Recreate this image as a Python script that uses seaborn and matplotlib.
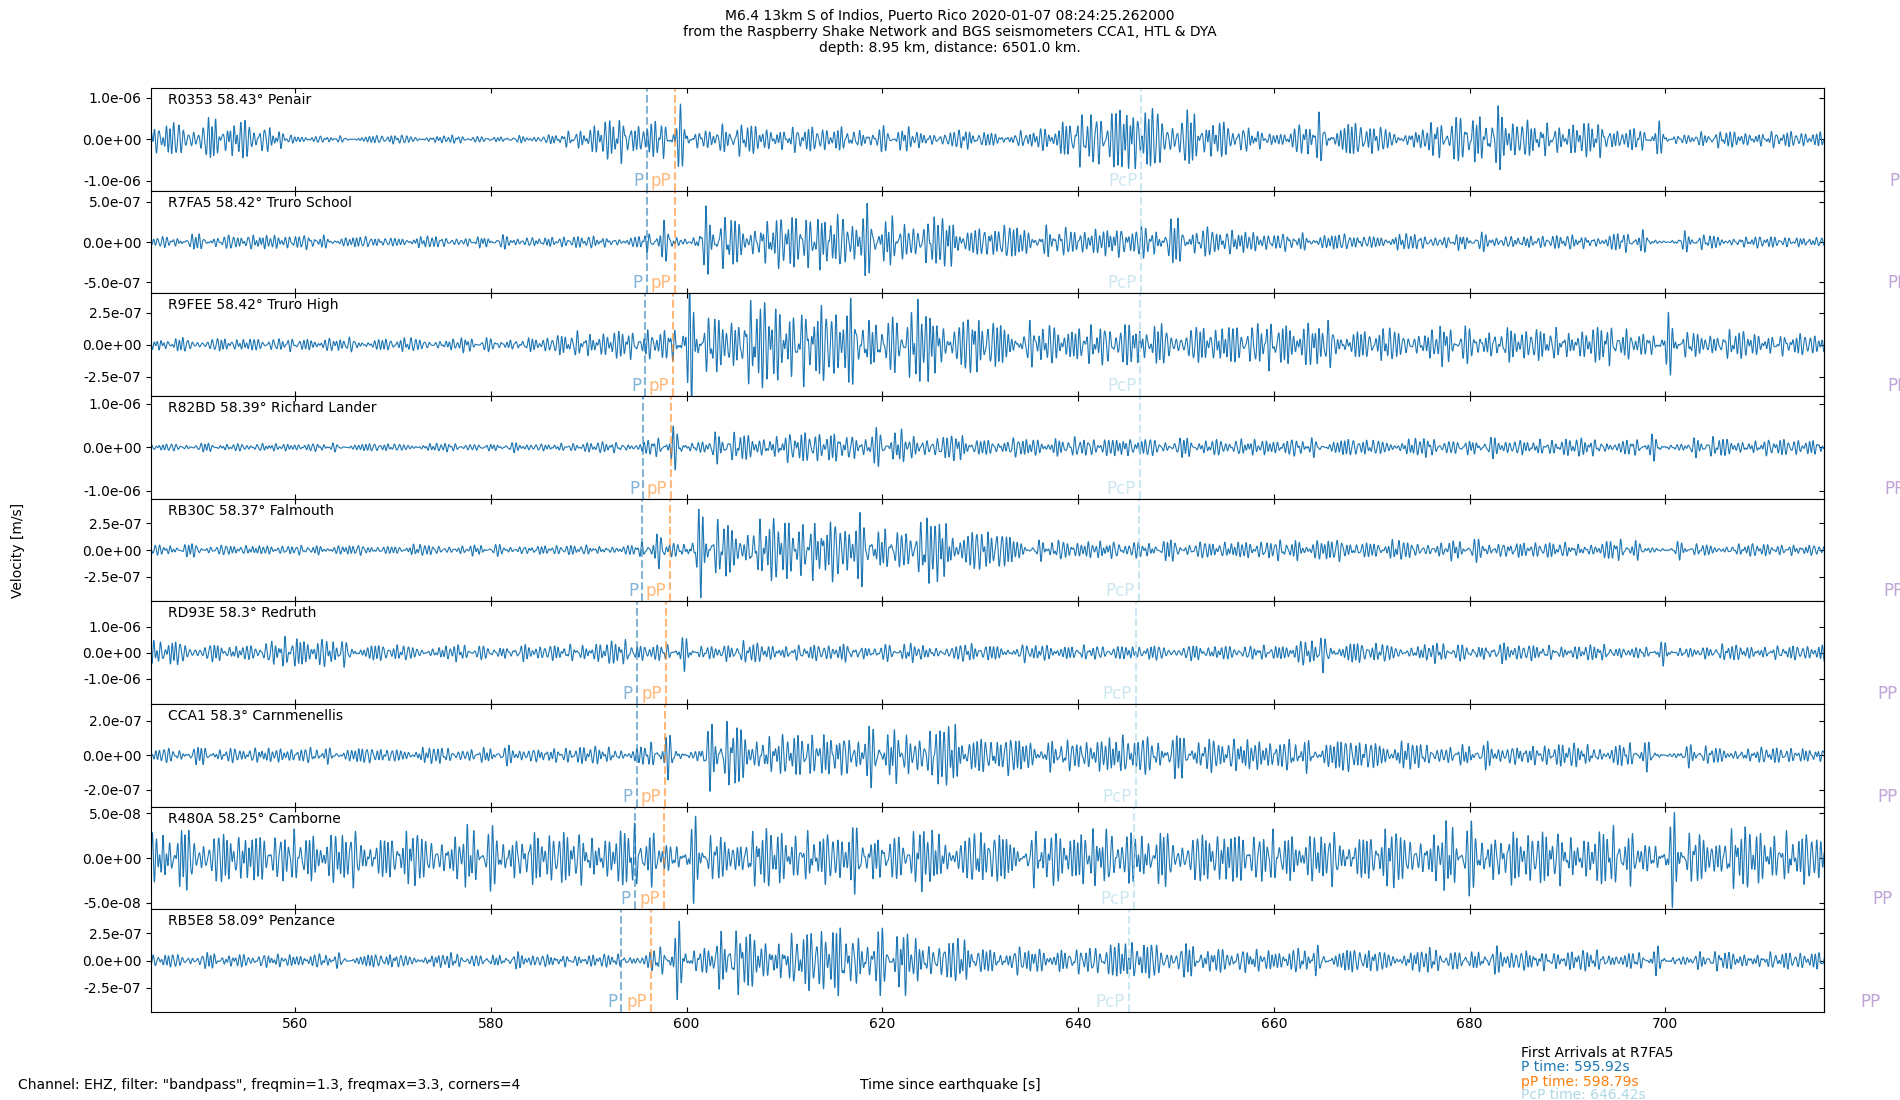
import numpy as np
import matplotlib as mpl
import matplotlib.pyplot as plt
from matplotlib.ticker import FormatStrFormatter
import seaborn as sns

mpl.rcParams.update({"font.size": 10})

stations = ["R0353", "R7FA5", "R9FEE", "R82BD", "RB30C", "RD93E", "CCA1", "R480A", "RB5E8"]
distances = ["58.43", "58.42", "58.42", "58.39", "58.37", "58.3", "58.3", "58.25", "58.09"]
places = ["Penair", "Truro School", "Truro High", "Richard Lander", "Falmouth",
          "Redruth", "Carnmenellis", "Camborne", "Penzance"]

# arrival times [s] per station
p_times = [595.95, 595.92, 595.75, 595.55, 595.45, 594.9, 594.9, 594.7, 593.3]
pp_small_times = [598.82, 598.79, 598.65, 598.45, 598.35, 597.9, 597.8, 597.7, 596.4]
pcp_times = [646.45, 646.42, 646.35, 646.3, 646.2, 645.9, 645.9, 645.7, 645.2]
pp_times = [725.3, 725.1, 725.1, 724.85, 724.7, 724.1, 724.1, 723.6, 722.4]

# y ticks and y limits per panel
tick_vals = [1e-6, 5e-7, 2.5e-7, 1e-6, 2.5e-7, 1e-6, 2e-7, 5e-8, 2.5e-7]
y_limits = [1.24e-6, 6.4e-7, 4.0e-7, 1.18e-6, 4.8e-7, 1.97e-6, 2.98e-7, 5.75e-8, 4.7e-7]

# amplitude envelope every 5 s (545 ... 715 s)
env_times = list(range(545, 716, 5))
env_r0353 = [0.35, 0.4, 0.45, 0.08, 0.06, 0.1, 0.08, 0.07, 0.06, 0.3, 0.55, 0.4, 0.3, 0.3, 0.25,
             0.25, 0.2, 0.18, 0.15, 0.55, 0.8, 0.6, 0.4, 0.12, 0.5, 0.3, 0.2, 0.7, 0.45, 0.35,
             0.35, 0.2, 0.15, 0.2, 0.15]  # x1e-6
env_r7fa5 = [0.12, 0.15, 0.17, 0.17, 0.12, 0.12, 0.12, 0.12, 0.12, 0.13, 0.12, 0.5, 0.55, 0.55,
             0.75, 0.55, 0.55, 0.4, 0.35, 0.3, 0.35, 0.45, 0.3, 0.2, 0.18, 0.17, 0.17, 0.17,
             0.15, 0.15, 0.2, 0.17, 0.15, 0.12, 0.12]  # x5e-7
env_r9fee = [0.45, 0.45, 0.45, 0.45, 0.45, 0.45, 0.45, 0.45, 0.45, 1.1, 0.8, 2.5, 2.6, 3.0,
             2.8, 2.0, 2.7, 1.8, 1.4, 1.3, 1.6, 1.2, 1.4, 1.7, 1.5, 1.0, 1.2, 1.2, 1.1, 1.2,
             1.2, 1.3, 1.0, 0.8, 0.8]  # x1e-7
env_r82bd = [0.08, 0.08, 0.08, 0.08, 0.08, 0.08, 0.08, 0.08, 0.08, 0.1, 0.12, 0.33, 0.25, 0.3,
             0.32, 0.32, 0.28, 0.2, 0.18, 0.2, 0.2, 0.18, 0.17, 0.17, 0.18, 0.17, 0.18, 0.17,
             0.17, 0.18, 0.17, 0.17, 0.18, 0.17, 0.16]  # x1e-6
env_rb30c = [0.45, 0.5, 0.4, 0.4, 0.4, 0.4, 0.45, 0.4, 0.4, 0.4, 0.4, 2.3, 2.5, 2.5, 3.0, 1.8,
             2.6, 2.0, 0.8, 0.8, 0.7, 0.8, 0.7, 0.85, 0.9, 0.8, 0.7, 0.8, 0.7, 0.6, 0.8, 0.5,
             0.5, 0.5, 0.5]  # x1e-7
env_rd93e = [0.55, 0.3, 0.25, 0.6, 0.4, 0.25, 0.25, 0.25, 0.25, 0.35, 0.4, 0.35, 0.35, 0.28,
             0.28, 0.28, 0.28, 0.28, 0.28, 0.25, 0.25, 0.25, 0.25, 0.25, 0.55, 0.3, 0.3, 0.3,
             0.3, 0.25, 0.25, 0.25, 0.25, 0.25, 0.25]  # x1e-6
env_cca1 = [0.4, 0.4, 0.4, 0.4, 0.4, 0.4, 0.4, 0.4, 0.4, 0.45, 0.45, 1.0, 1.6, 1.0, 1.3, 1.2,
            1.6, 1.2, 0.8, 0.8, 1.1, 1.0, 0.9, 0.8, 0.8, 0.9, 0.6, 0.55, 0.55, 0.6, 0.6, 0.5,
            0.4, 0.4, 0.4]  # x1e-7
env_r480a = [2.8, 2.8, 2.6, 2.6, 2.6, 2.4, 2.6, 2.8, 2.6, 2.7, 2.8, 2.6, 2.6, 2.8, 2.8, 2.6,
             2.8, 2.6, 2.4, 3.0, 2.8, 2.4, 2.8, 2.6, 2.4, 2.6, 2.8, 3.2, 2.6, 2.8, 2.6, 2.8,
             3.0, 2.8, 2.8]  # x1e-8
env_rb5e8 = [0.55, 0.6, 0.55, 0.55, 0.55, 0.55, 0.55, 0.55, 0.55, 0.5, 0.5, 2.2, 2.3, 2.0,
             3.0, 2.3, 2.2, 1.2, 1.0, 1.0, 1.8, 1.3, 1.0, 0.9, 1.1, 0.9, 0.9, 0.9, 0.9, 0.8,
             0.8, 0.7, 0.7, 0.7, 0.7]  # x1e-7

envelopes = [env_r0353, env_r7fa5, env_r9fee, env_r82bd, env_rb30c,
             env_rd93e, env_cca1, env_r480a, env_rb5e8]
env_units = [1e-6, 5e-7, 1e-7, 1e-6, 1e-7, 1e-6, 1e-7, 1e-8, 1e-7]

# oscillation inside the 1.3-3.3 Hz passband
carrier_freqs = [1.41, 1.58, 1.93, 2.07, 2.36, 2.61, 2.74, 3.05, 3.22]
carrier_weights = [0.6, 0.8, 1.0, 1.0, 1.0, 1.0, 0.9, 0.7, 0.5]

t = np.arange(545.0, 716.5, 0.02)

fig, axes = plt.subplots(9, 1, sharex=True, figsize=(19, 11), dpi=100,
                         gridspec_kw={"hspace": 0})
fig.subplots_adjust(left=0.0795, right=0.96, top=0.92, bottom=0.08)

for i, ax in enumerate(axes):
    env = np.interp(t, env_times, envelopes[i]) * env_units[i]
    wave = sum(w * np.sin(2 * np.pi * f * t + (k + 1) * (i + 3) * 2.39996)
               for k, (f, w) in enumerate(zip(carrier_freqs, carrier_weights)))
    trace = env * wave / (2.0 * wave.std())
    sns.lineplot(x=t, y=trace, ax=ax, color="#1f77b4", lw=0.8, estimator=None)

    ax.set_xlim(545.28, 716.2)
    ax.set_ylim(-y_limits[i], y_limits[i])
    yt = [tick_vals[i], 0, -tick_vals[i]]
    ax.set_yticks(yt)
    ax.yaxis.set_major_formatter(FormatStrFormatter("%.1e"))
    ax.tick_params(axis="x", direction="in", top=True, bottom=True)
    sec = ax.secondary_yaxis("right")
    sec.set_yticks(yt)
    sec.tick_params(direction="in", labelright=False)
    ax.set_ylabel("")

    ax.text(0.01, 0.95, f"{stations[i]} {distances[i]}\u00b0 {places[i]}",
            transform=ax.transAxes, ha="left", va="top", fontsize=10)

    tr = ax.get_xaxis_transform()
    ax.axvline(p_times[i], color="#1f77b4", ls="--", alpha=0.55)
    ax.axvline(pp_small_times[i], color="#ff7f0e", ls="--", alpha=0.55)
    ax.axvline(pcp_times[i], color="lightblue", ls="--", alpha=0.6)
    ax.text(p_times[i] - 0.4, 0.01, "P", transform=tr, ha="right", va="bottom",
            color="#1f77b4", alpha=0.55, fontsize=12)
    ax.text(pp_small_times[i] - 0.4, 0.01, "pP", transform=tr, ha="right", va="bottom",
            color="#ff7f0e", alpha=0.55, fontsize=12)
    ax.text(pcp_times[i] - 0.4, 0.01, "PcP", transform=tr, ha="right", va="bottom",
            color="lightblue", alpha=0.6, fontsize=12)
    ax.text(pp_times[i] - 0.4, 0.01, "PP", transform=tr, ha="right", va="bottom",
            color="#9467bd", alpha=0.6, fontsize=12, clip_on=False)

axes[-1].set_xticks([560, 580, 600, 620, 640, 660, 680, 700])

fig.suptitle("M6.4 13km S of Indios, Puerto Rico 2020-01-07 08:24:25.262000\n"
             "from the Raspberry Shake Network and BGS seismometers CCA1, HTL & DYA\n"
             "depth: 8.95 km, distance: 6501.0 km.", fontsize=10, y=0.992)
fig.supxlabel("Time since earthquake [s]", fontsize=10, y=0.014, va="center")
fig.supylabel("Velocity [m/s]", fontsize=10, x=0.0095, ha="center")
fig.text(0.0095, 0.014, 'Channel: EHZ, filter: "bandpass", freqmin=1.3, freqmax=3.3, corners=4',
         ha="left", va="center", fontsize=10)

fig.text(0.8005, 0.0425, "First Arrivals at R7FA5", ha="left", va="center", fontsize=10)
fig.text(0.8005, 0.0298, f"P time: {p_times[1]:.2f}s", ha="left", va="center",
         fontsize=10, color="#1f77b4")
fig.text(0.8005, 0.0166, f"pP time: {pp_small_times[1]:.2f}s", ha="left", va="center",
         fontsize=10, color="#ff7f0e")
fig.text(0.8005, 0.0044, f"PcP time: {pcp_times[1]:.2f}s", ha="left", va="center",
         fontsize=10, color="lightblue")

fig.savefig("out.png", dpi=100)
